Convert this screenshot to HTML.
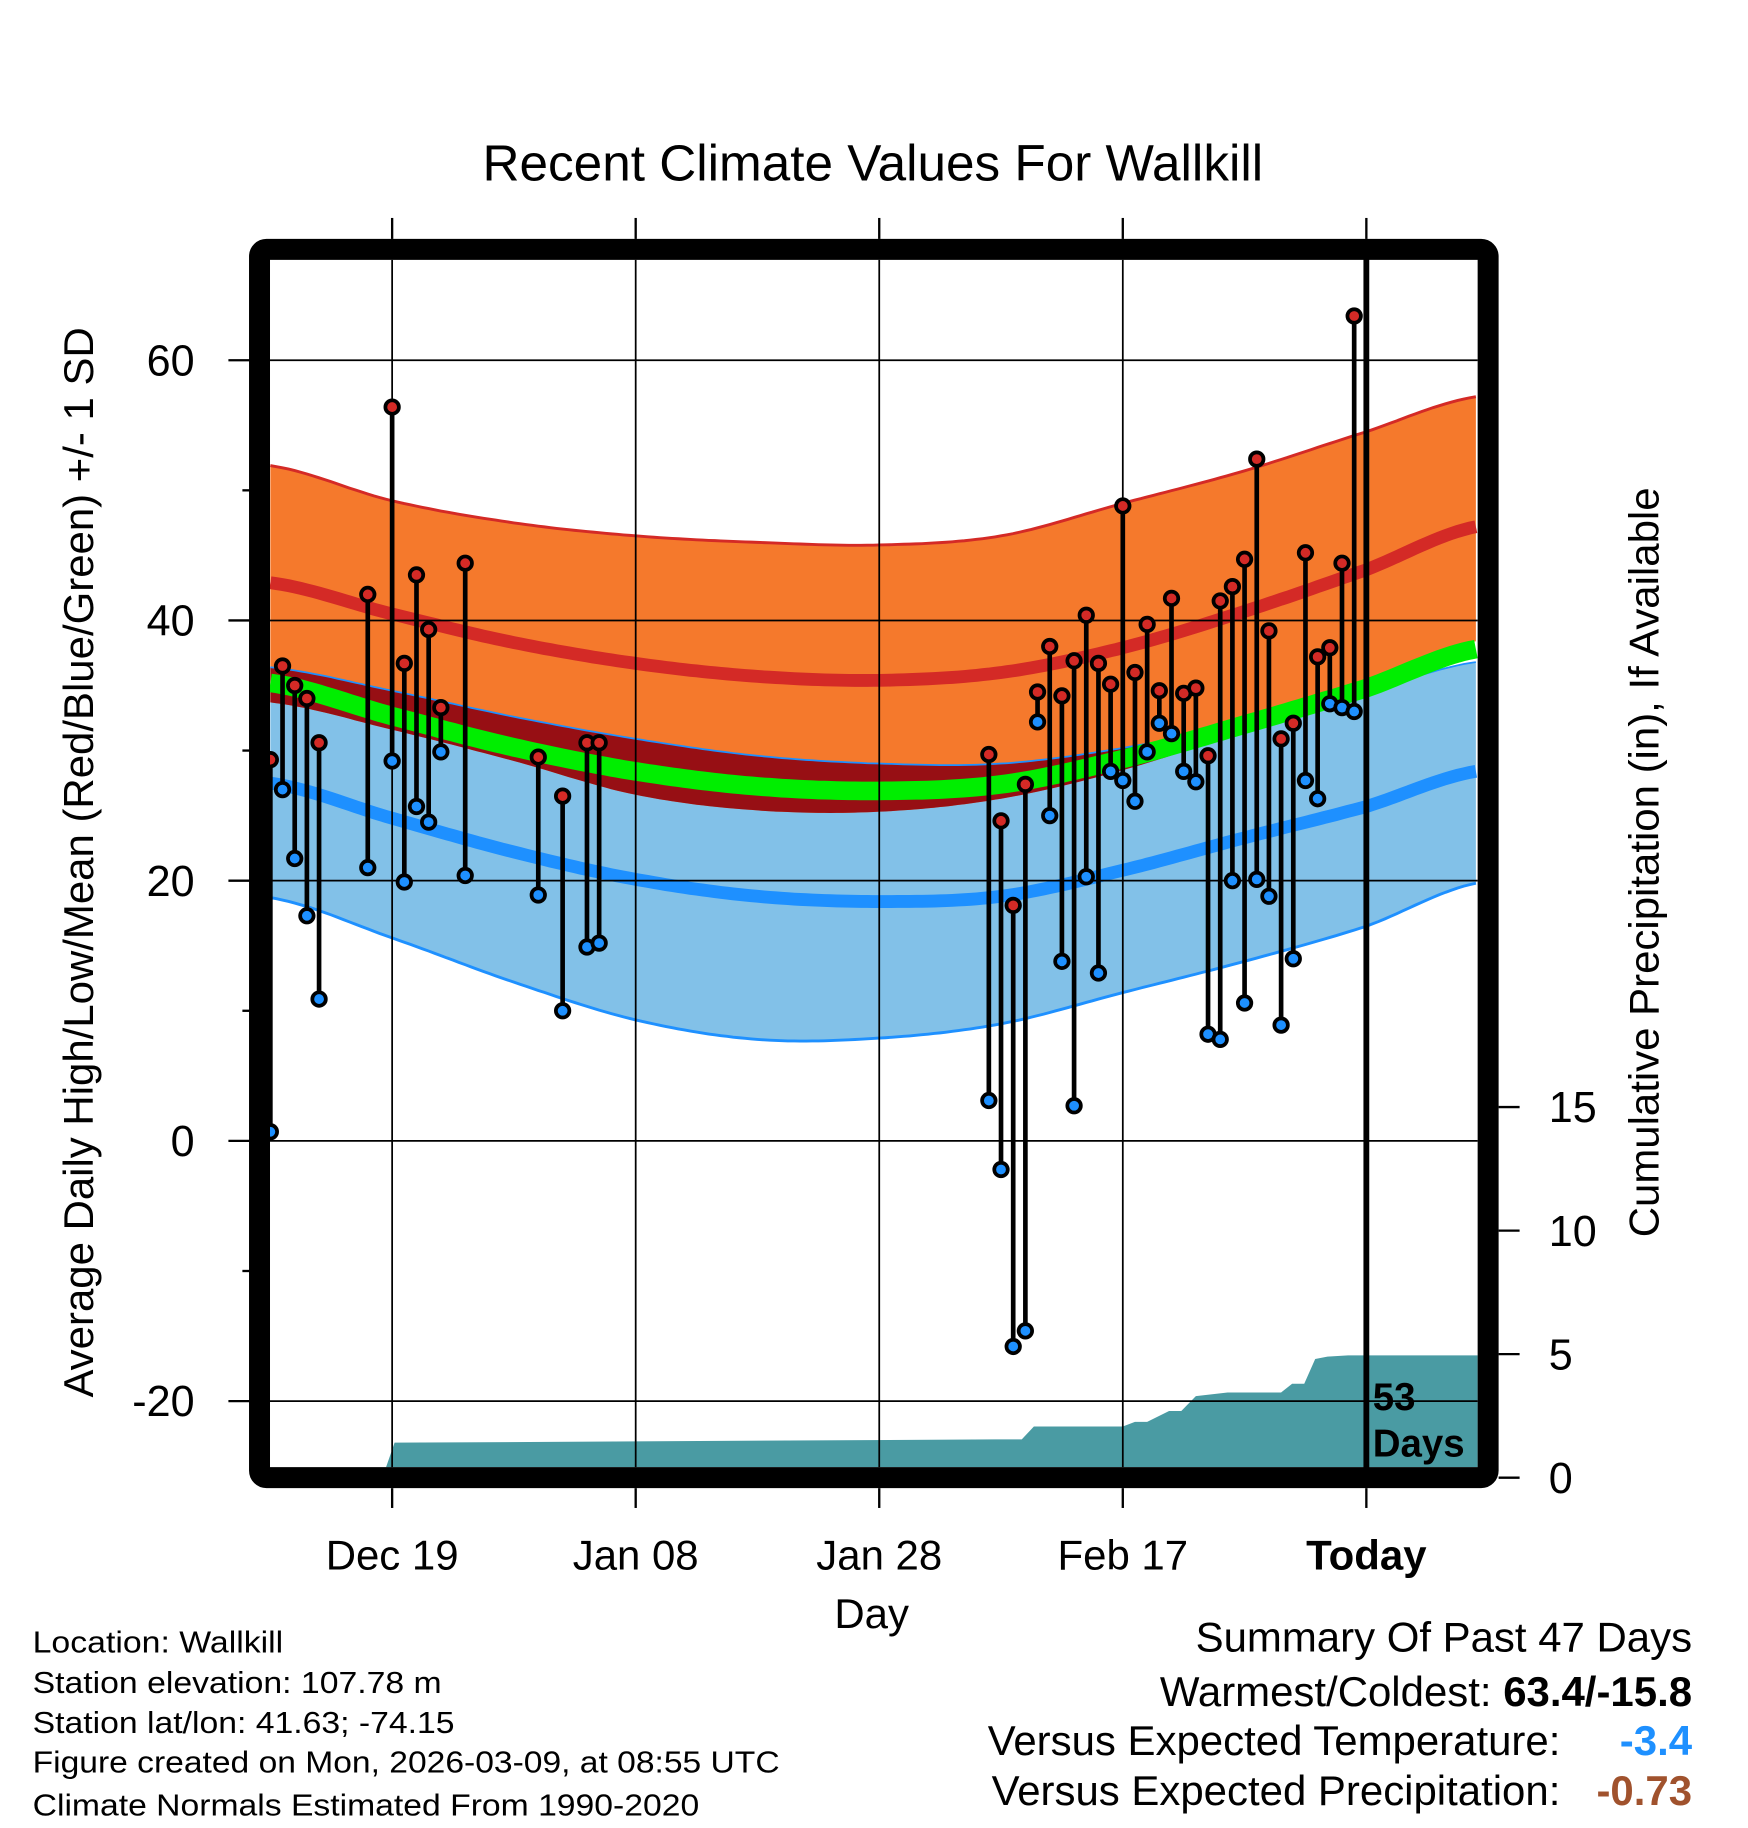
<!DOCTYPE html>
<html><head><meta charset="utf-8"><style>
html,body{margin:0;padding:0;background:#fff;}
svg{display:block;font-family:"Liberation Sans",Arial,sans-serif;}
</style></head><body>
<svg id="chart" width="1748" height="1828" viewBox="0 0 1500 1568.6" xmlns="http://www.w3.org/2000/svg">
<g id="bands"></g>
<g id="precip"></g>
<g id="grid"></g>
<g id="obs"></g>
<rect x="222.7" y="214" width="1054.3" height="1054" rx="6" fill="none" stroke="#000" stroke-width="18"/>
<line x1="1172.5" y1="214" x2="1172.5" y2="1262" stroke="#000" stroke-width="5"/>
<text x="1178" y="1210" font-size="33" font-weight="bold">53</text>
<text x="1178" y="1250" font-size="33" font-weight="bold">Days</text>
<g id="axes"></g>
<text x="749" y="155" font-size="44" text-anchor="middle">Recent Climate Values For Wallkill</text>
<text transform="translate(80,740) rotate(-90)" font-size="36" text-anchor="middle">Average Daily High/Low/Mean (Red/Blue/Green) +/- 1 SD</text>
<text transform="translate(1423,740) rotate(-90)" font-size="36" text-anchor="middle">Cumulative Precipitation (in), If Available</text>
<text x="748" y="1397" font-size="36" text-anchor="middle">Day</text>
<g font-size="26">
<text x="28" y="1418" textLength="215" lengthAdjust="spacingAndGlyphs">Location: Wallkill</text>
<text x="28" y="1453" textLength="351" lengthAdjust="spacingAndGlyphs">Station elevation: 107.78 m</text>
<text x="28" y="1487" textLength="362" lengthAdjust="spacingAndGlyphs">Station lat/lon: 41.63; -74.15</text>
<text x="28" y="1521" textLength="641" lengthAdjust="spacingAndGlyphs">Figure created on Mon, 2026-03-09, at 08:55 UTC</text>
<text x="28" y="1558" textLength="572" lengthAdjust="spacingAndGlyphs">Climate Normals Estimated From 1990-2020</text>
</g>
<g font-size="36">
<text x="1452" y="1417" text-anchor="end">Summary Of Past 47 Days</text>
<text x="1452" y="1464" text-anchor="end">Warmest/Coldest: <tspan font-weight="bold">63.4/-15.8</tspan></text>
<text x="1339" y="1506" text-anchor="end">Versus Expected Temperature:</text>
<text x="1452" y="1506" text-anchor="end" font-weight="bold" fill="#1e90ff">-3.4</text>
<text x="1339" y="1549" text-anchor="end">Versus Expected Precipitation:</text>
<text x="1452" y="1549" text-anchor="end" font-weight="bold" fill="#a0522d">-0.73</text>
</g>
</svg>
<script>
const normDays=[0,10,20,30,40,50,60,70,80,90,99];
const highPlus=[51.9,49.2,47.5,46.5,46.0,45.8,46.5,49.0,51.5,54.5,57.2];
const highMean=[42.9,40.5,38.3,36.7,35.7,35.4,36.0,37.9,40.7,43.9,47.2];
const highMinus=[33.7,31.6,29.2,26.6,25.4,25.3,26.3,28.5,31.5,34.8,38.4];
const lowPlus=[36.4,34.6,32.6,30.9,29.6,29.0,29.0,30.2,32.1,34.5,36.8];
const lowMean=[27.5,24.8,22.2,20.1,18.8,18.4,18.8,20.8,23.3,25.7,28.4];
const lowMinus=[18.7,15.6,12.2,9.3,7.8,7.9,9.0,11.4,13.8,16.5,19.8];
const obsDays=[0,1,2,3,4,8,10,11,12,13,14,16,22,24,26,27,59,60,61,62,63,64,65,66,67,68,69,70,71,72,73,74,75,76,77,78,79,80,81,82,83,84,85,86,87,88,89];
const obsHigh=[29.3,36.5,35,34,30.6,42,56.4,36.7,43.5,39.3,33.3,44.4,29.5,26.5,30.6,30.6,29.7,24.6,18.1,27.4,34.5,38,34.2,36.9,40.4,36.7,35.1,48.8,36,39.7,34.6,41.7,34.4,34.8,29.6,41.5,42.6,44.7,52.4,39.2,30.9,32.1,45.2,37.2,37.9,44.4,63.4];
const obsLow=[0.7,27,21.7,17.3,10.9,21,29.2,19.9,25.7,24.5,29.9,20.4,18.9,10,14.9,15.2,3.1,-2.2,-15.8,-14.6,32.2,25,13.8,2.7,20.3,12.9,28.4,27.7,26.1,29.9,32.1,31.3,28.4,27.6,8.2,7.8,20,10.6,20.1,18.8,8.9,14,27.7,26.3,33.6,33.3,33];
const precipDays=[9.5,10.2,23,59.5,61.7,62.7,70,71,72,73.8,74.8,76,78.6,79,83,83.9,84.9,85.8,86.8,88.5,90,99.2];
const precipVals=[0,1.42,1.45,1.55,1.55,2.07,2.07,2.26,2.26,2.7,2.7,3.3,3.45,3.45,3.45,3.8,3.8,4.8,4.9,4.95,4.95,4.95];
const yTicks=[60,40,20,0,-20];
const yMinor=[50,30,10,-10];
const pTicks=[0,5,10,15];
const xTickDays=[10,30,50,70,90];
const xTickLabels=["Dec 19","Jan 08","Jan 28","Feb 17","Today"];

const NS="http://www.w3.org/2000/svg";
const X=d=>232+10.45*d;
const Y=v=>979-11.165*v;
const P=v=>1268-21.2*v;
function mk(tag,attrs,parent){const e=document.createElementNS(NS,tag);for(const k in attrs)e.setAttribute(k,attrs[k]);parent.appendChild(e);return e;}
function interp(arr,d){
  let i=0;while(i<normDays.length-2&&d>normDays[i+1])i++;
  const p0=arr[Math.max(i-1,0)],p1=arr[i],p2=arr[i+1],p3=arr[Math.min(i+2,arr.length-1)];
  const t=(d-normDays[i])/(normDays[i+1]-normDays[i]);
  return 0.5*((2*p1)+(-p0+p2)*t+(2*p0-5*p1+4*p2-p3)*t*t+(-p0+3*p1-3*p2+p3)*t*t*t);
}
const samples=[];for(let d=0;d<=99.2;d+=0.5)samples.push(d);
function linePts(fn){return samples.map(d=>X(d).toFixed(1)+","+Y(fn(d)).toFixed(1));}
function band(a,b,fill,name){
  const pts=linePts(d=>interp(a,d)).concat(linePts(d=>interp(b,d)).reverse());
  const e=mk('polygon',{points:pts.join(' '),fill:fill},bands);
  
  
}
function line(a,stroke,w,name){
  const e=mk('polyline',{points:linePts(typeof a==='function'?a:d=>interp(a,d)).join(' '),fill:'none',stroke:stroke,'stroke-width':w},bands);
  
  
}
const bands=document.getElementById('bands');
const cp=mk('clipPath',{id:'clip'},bands);mk('rect',{x:231.7,y:223,width:1036.3,height:1036},cp);
bands.setAttribute('clip-path','url(#clip)');
band(lowPlus,lowMinus,'#82c1e8','low-sd-band');
band(highPlus,highMinus,'#f5792c','high-sd-band');
const ov=samples.map(d=>[d,interp(lowPlus,d),interp(highMinus,d)]).filter(s=>s[1]>s[2]);
if(ov.length){
  const pts=ov.map(s=>X(s[0]).toFixed(1)+","+Y(s[1]).toFixed(1)).concat(ov.slice().reverse().map(s=>X(s[0]).toFixed(1)+","+Y(s[2]).toFixed(1)));
  const e=mk('polygon',{points:pts.join(' '),fill:'#970f14'},bands);
  
  
}
line(highPlus,'#d42a26',2.5,'high-plus-sd-line');
line(lowPlus,'#1e90ff',1.5,'low-plus-sd-line');
line(lowMinus,'#1e90ff',2.5,'low-minus-sd-line');
line(highMean,'#d42a26',11,'mean-high-line');
line(lowMean,'#1e90ff',11,'mean-low-line');
line(d=>(interp(highMean,d)+interp(lowMean,d))/2,'#00ee00',16,'mean-line');

const pr=document.getElementById('precip');
let pp=[X(precipDays[0])+","+1259];
precipDays.forEach((d,i)=>pp.push(Math.min(X(d),1268).toFixed(1)+","+Math.min(P(precipVals[i]),1259).toFixed(1)));
pp.push("1268,1259");
const pe=mk('polygon',{points:pp.join(' '),fill:'#4a9ba3'},pr);



const g=document.getElementById('grid');
yTicks.forEach(v=>{const e=mk('line',{x1:231.7,x2:1268,y1:Y(v),y2:Y(v),stroke:'#000','stroke-width':1.5},g);

});
xTickDays.forEach(d=>{const e=mk('line',{x1:X(d),x2:X(d),y1:223,y2:1259,stroke:'#000','stroke-width':1.5},g);

});

const ax=document.getElementById('axes');
yTicks.forEach(v=>{mk('line',{x1:196,x2:214,y1:Y(v),y2:Y(v),stroke:'#000','stroke-width':2},ax);
const t=mk('text',{x:167,y:Y(v)+13,'font-size':37,'text-anchor':'end'},ax);t.textContent=v;

});
yMinor.forEach(v=>mk('line',{x1:208,x2:214,y1:Y(v),y2:Y(v),stroke:'#000','stroke-width':2},ax));
pTicks.forEach(v=>{mk('line',{x1:1286,x2:1304,y1:P(v),y2:P(v),stroke:'#000','stroke-width':2},ax);
const t=mk('text',{x:1329,y:P(v)+13,'font-size':37},ax);t.textContent=v;

});
xTickDays.forEach((d,i)=>{mk('line',{x1:X(d),x2:X(d),y1:187,y2:205,stroke:'#000','stroke-width':2},ax);
mk('line',{x1:X(d),x2:X(d),y1:1277,y2:1294,stroke:'#000','stroke-width':2},ax);
const t=mk('text',{x:X(d),y:1347,'font-size':36,'text-anchor':'middle','font-weight':i===4?'bold':'normal'},ax);t.textContent=xTickLabels[i];

});

const ob=document.getElementById('obs');
obsDays.forEach((d,i)=>{
  const e=mk('line',{x1:X(d),x2:X(d),y1:Y(obsHigh[i]),y2:Y(obsLow[i]),stroke:'#000','stroke-width':4},ob);
  
  
});
obsDays.forEach((d,i)=>{
  const h=mk('circle',{cx:X(d),cy:Y(obsHigh[i]),r:5.8,fill:'#d42a26',stroke:'#000','stroke-width':3.2},ob);
  
  
  const l=mk('circle',{cx:X(d),cy:Y(obsLow[i]),r:5.8,fill:'#1e90ff',stroke:'#000','stroke-width':3.2},ob);
  
  
});
</script>
</body></html>
